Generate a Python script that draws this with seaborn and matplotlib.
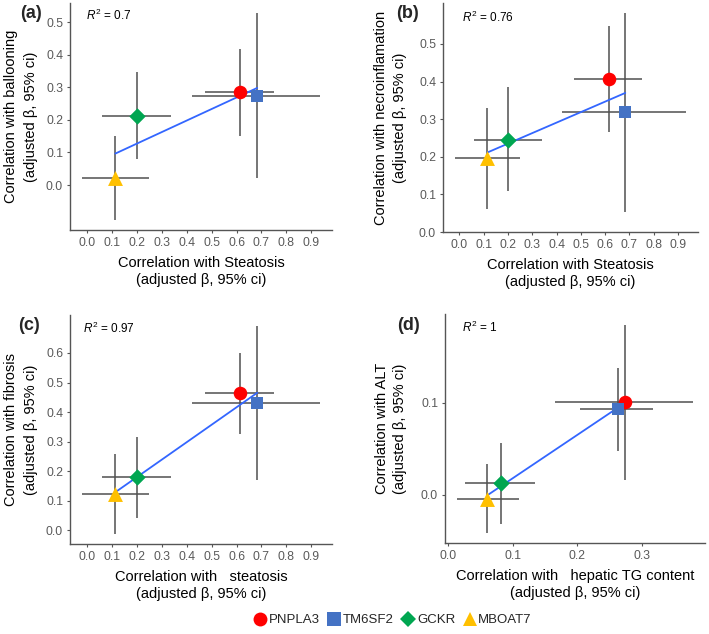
import numpy as np
import pandas as pd
import matplotlib
matplotlib.use('Agg')
import matplotlib.pyplot as plt
import seaborn as sns

# genes / legend
genes = ['PNPLA3', 'TM6SF2', 'GCKR', 'MBOAT7']
gene_colors = ['#FF0000', '#4472C4', '#00A651', '#FFC000']
gene_markers = ['o', 's', 'D', '^']

# correlation with steatosis (panels a, b, c)
steatosis_beta = [0.615, 0.683, 0.200, 0.114]
steatosis_lo = [0.472, 0.422, 0.060, -0.020]
steatosis_hi = [0.752, 0.935, 0.339, 0.248]

# panel a: ballooning
ballooning_beta = [0.287, 0.274, 0.213, 0.022]
ballooning_lo = [0.151, 0.022, 0.080, -0.107]
ballooning_hi = [0.419, 0.527, 0.347, 0.151]

# panel b: necroinflammation
necro_beta = [0.408, 0.318, 0.245, 0.196]
necro_lo = [0.267, 0.053, 0.108, 0.060]
necro_hi = [0.548, 0.582, 0.386, 0.331]

# panel c: fibrosis
fibrosis_beta = [0.464, 0.431, 0.180, 0.124]
fibrosis_lo = [0.327, 0.169, 0.043, -0.011]
fibrosis_hi = [0.601, 0.693, 0.316, 0.257]

# panel d: hepatic TG content vs ALT
tg_beta = [0.274, 0.263, 0.081, 0.060]
tg_lo = [0.165, 0.205, 0.025, 0.013]
tg_hi = [0.380, 0.318, 0.134, 0.109]
alt_beta = [0.101, 0.093, 0.013, -0.004]
alt_lo = [0.016, 0.048, -0.032, -0.041]
alt_hi = [0.185, 0.138, 0.056, 0.033]

r2_labels = ['0.7', '0.76', '0.97', '1']

# tick values
steatosis_ticks = [0.0, 0.1, 0.2, 0.3, 0.4, 0.5, 0.6, 0.7, 0.8, 0.9]
ballooning_ticks = [0.0, 0.1, 0.2, 0.3, 0.4, 0.5]
necro_ticks = [0.0, 0.1, 0.2, 0.3, 0.4, 0.5]
fibrosis_ticks = [0.0, 0.1, 0.2, 0.3, 0.4, 0.5, 0.6]
tg_ticks = [0.0, 0.1, 0.2, 0.3]
alt_ticks = [0.0, 0.1]

sns.set_theme(style='ticks')
plt.rcParams['font.family'] = ['Liberation Sans', 'DejaVu Sans']
plt.rcParams['mathtext.fontset'] = 'custom'
plt.rcParams['mathtext.it'] = 'Liberation Sans:italic'
plt.rcParams['mathtext.rm'] = 'Liberation Sans'

palette = dict(zip(genes, gene_colors))
markers = dict(zip(genes, gene_markers))
sizes = {'o': 95, 's': 80, 'D': 70, '^': 115}

AXIS_GREY = '#555555'
TICK_GREY = '#5a5a5a'
BAR_GREY = '#505050'
LINE_BLUE = '#3366FF'
PX = 0.72  # points per pixel at 100 dpi
CI_LINE = '(adjusted \u03b2, 95% ci)'


def plot_panel(ax, x, xlo, xhi, y, ylo, yhi, xticks, yticks, xlabel, ylabel,
               r2, r2_pos, ylab_off):
    df = pd.DataFrame({'gene': genes, 'x': x, 'y': y})
    x = np.array(x)
    y = np.array(y)
    ax.errorbar(x, y,
                xerr=[x - np.array(xlo), np.array(xhi) - x],
                yerr=[y - np.array(ylo), np.array(yhi) - y],
                fmt='none', ecolor=BAR_GREY, elinewidth=1.1, capsize=0, zorder=1)
    sns.regplot(data=df, x='x', y='y', scatter=False, ci=None, ax=ax,
                color=LINE_BLUE, line_kws={'linewidth': 1.3, 'zorder': 2})
    for g, m in markers.items():
        sub = df[df['gene'] == g]
        sns.scatterplot(data=sub, x='x', y='y', color=palette[g], marker=m,
                        s=sizes[m], linewidth=0, ax=ax, zorder=3, legend=False)
    ax.set_xticks(xticks)
    ax.set_yticks(yticks)
    ax.set_xticklabels([f'{t:.1f}' for t in xticks])
    ax.set_yticklabels([f'{t:.1f}' for t in yticks])
    ax.tick_params(axis='both', labelsize=8.8, labelcolor=TICK_GREY, color=AXIS_GREY,
                   length=2, width=0.8, pad=3)
    ax.set_xlabel(xlabel + '\n' + CI_LINE, fontsize=10.5, color='black',
                  labelpad=5, linespacing=1.25)
    ax.set_ylabel('')
    # two-line y title, each line placed on its own
    for txt, off in zip([ylabel, CI_LINE], ylab_off):
        ax.annotate(txt, xy=(0, 0.5), xycoords='axes fraction',
                    xytext=(off * PX, 0), textcoords='offset points',
                    rotation=90, ha='center', va='center', fontsize=10.5, color='black')
    ax.grid(False)
    sns.despine(ax=ax)
    for side in ['left', 'bottom']:
        ax.spines[side].set_color(AXIS_GREY)
        ax.spines[side].set_linewidth(1.0)
    ax.text(r2_pos[0], r2_pos[1], r'$R^2$ = ' + r2, transform=ax.transAxes,
            fontsize=8.5, ha='left', va='center', color='black')


fig = plt.figure(figsize=(7.09, 6.34), dpi=100)
ax_a = fig.add_axes([0.0987, 0.637, 0.3695, 0.358])
ax_b = fig.add_axes([0.6248, 0.634, 0.3597, 0.361])
ax_c = fig.add_axes([0.0987, 0.142, 0.3695, 0.361])
ax_d = fig.add_axes([0.6276, 0.1435, 0.3667, 0.361])

plot_panel(ax_a, steatosis_beta, steatosis_lo, steatosis_hi,
           ballooning_beta, ballooning_lo, ballooning_hi,
           steatosis_ticks, ballooning_ticks, 'Correlation with Steatosis',
           'Correlation with ballooning', r2_labels[0], (0.06, 0.947), (-59, -39))
plot_panel(ax_b, steatosis_beta, steatosis_lo, steatosis_hi,
           necro_beta, necro_lo, necro_hi,
           steatosis_ticks, necro_ticks, 'Correlation with Steatosis',
           'Correlation with necroinflamation', r2_labels[1], (0.075, 0.94), (-62, -43))
plot_panel(ax_c, steatosis_beta, steatosis_lo, steatosis_hi,
           fibrosis_beta, fibrosis_lo, fibrosis_hi,
           steatosis_ticks, fibrosis_ticks, 'Correlation with   steatosis',
           'Correlation with fibrosis', r2_labels[2], (0.05, 0.943), (-58.5, -38.5))
plot_panel(ax_d, tg_beta, tg_lo, tg_hi,
           alt_beta, alt_lo, alt_hi,
           tg_ticks, alt_ticks, 'Correlation with   hepatic TG content',
           'Correlation with ALT', r2_labels[3], (0.065, 0.943), (-63, -45))

# panel letters
for label, (px, py) in zip(['(a)', '(b)', '(c)', '(d)'],
                           [(20, 14), (396, 14), (18, 325), (397, 325)]):
    fig.text(px / 709, 1 - py / 634, label, fontsize=13, fontweight='bold',
             ha='left', va='center')

# shared legend
handles = [plt.Line2D([], [], linestyle='none', marker=m, color=c,
                      markersize={'o': 10, 's': 9.5, 'D': 8, '^': 10.5}[m],
                      markeredgewidth=0)
           for m, c in zip(gene_markers, gene_colors)]
fig.legend(handles, genes, loc='center', bbox_to_anchor=(0.553, 0.022), ncol=4,
           frameon=False, fontsize=9.5, handletextpad=0.05, columnspacing=0.5,
           handlelength=1.2, borderaxespad=0)

fig.savefig('out.png', dpi=100)
